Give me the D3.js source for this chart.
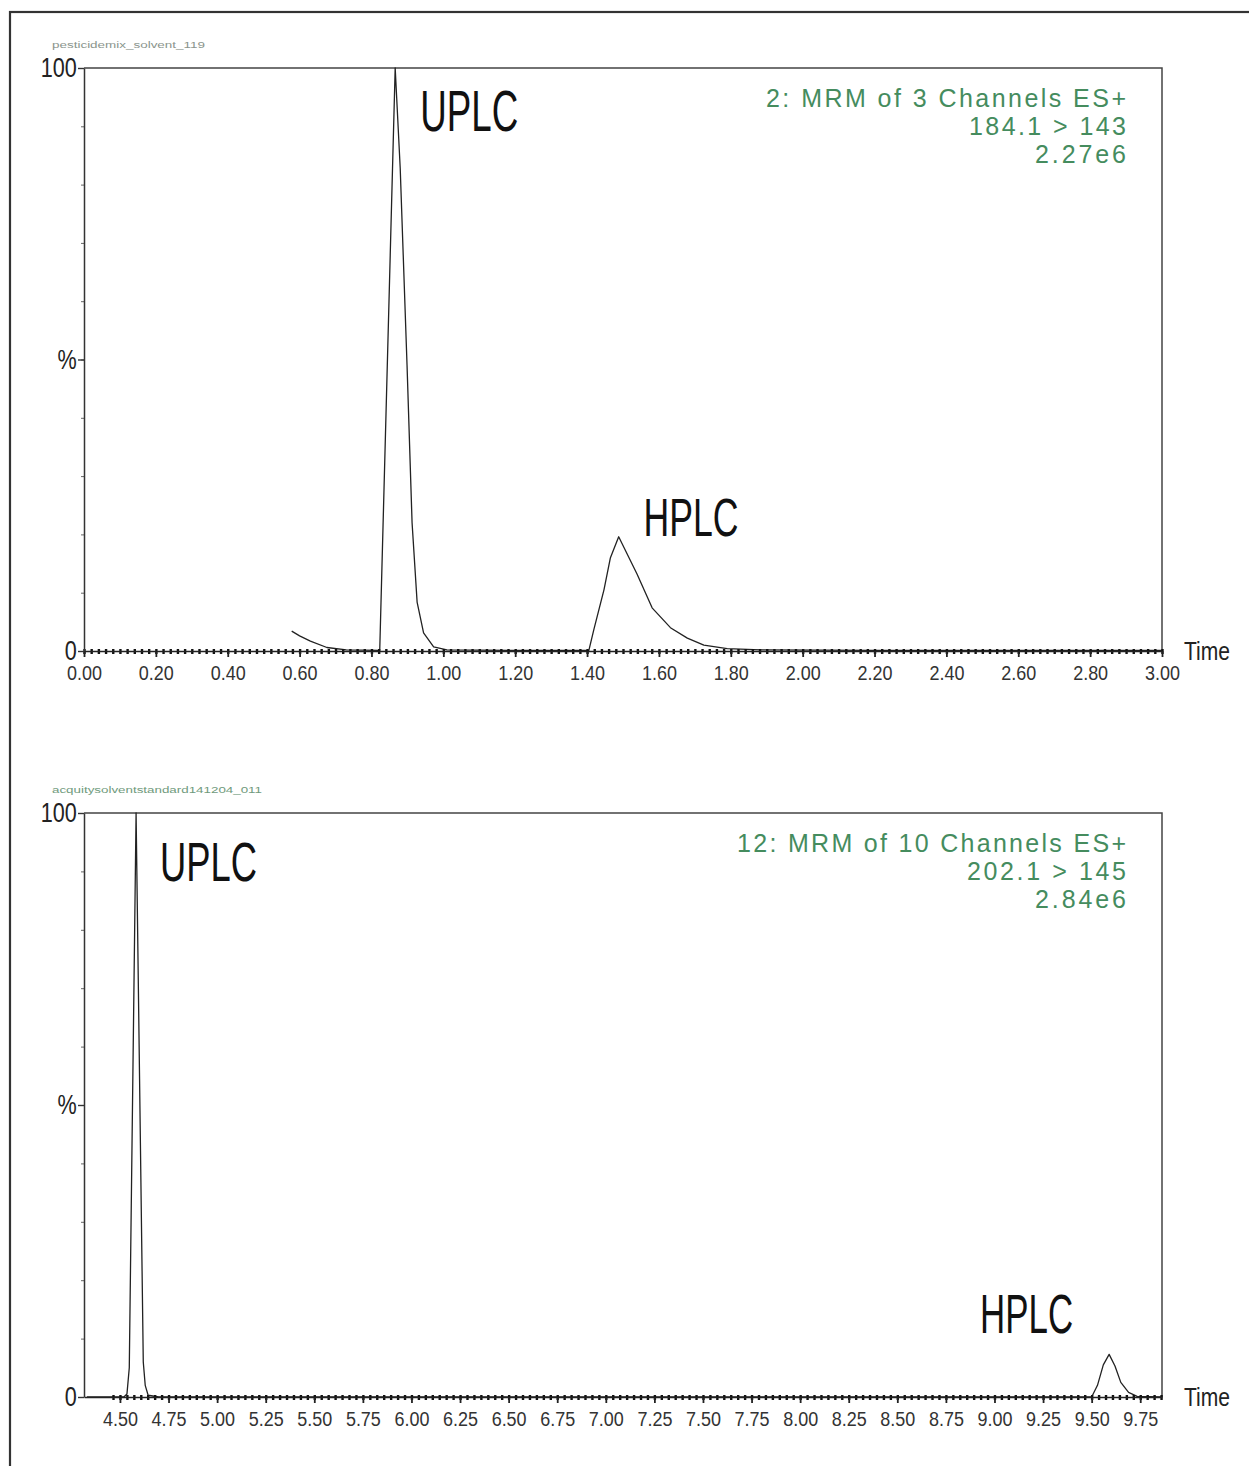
<!DOCTYPE html>
<html><head><meta charset="utf-8">
<script src="https://cdn.jsdelivr.net/npm/d3@7"></script>
<style>body{margin:0;background:#fff}svg{display:block}</style>
</head><body><svg id="c" width="1249" height="1466"></svg>
<script>
// ---- Run 1: pesticide mix in solvent, 3-minute gradient ----
const topFile = "pesticidemix_solvent_119";
const topTime = [0.578, 0.600, 0.630, 0.676, 0.730, 0.823, 0.866, 0.880, 0.899, 0.913, 0.927, 0.945, 0.973, 1.010,
  1.200, 1.405, 1.419, 1.447, 1.465, 1.488, 1.539, 1.581, 1.632, 1.679, 1.725, 1.790, 1.883, 2.200, 3.000];
const topIntensity = [3.4, 2.6, 1.7, 0.6, 0.2, 0.1, 100, 82.8, 49, 22, 8.4, 3.1, 0.7, 0.2,
  0.1, 0.1, 3.7, 10.5, 16, 19.6, 13.2, 7.4, 4.0, 2.2, 1.0, 0.4, 0.2, 0.1, 0.1];
const topTickLabels = ["0.00","0.20","0.40","0.60","0.80","1.00","1.20","1.40","1.60","1.80","2.00","2.20","2.40","2.60","2.80","3.00"];
const topInfo = ["2: MRM of 3 Channels ES+", "184.1 > 143", "2.27e6"];
const topPeaks = ["UPLC", "HPLC"];

// ---- Run 2: Acquity solvent standard, long run ----
const botFile = "acquitysolventstandard141204_011";
const botTime = [4.330, 4.520, 4.536, 4.548, 4.583, 4.620, 4.630, 4.645, 4.700, 6.000, 8.000, 9.500,
  9.530, 9.560, 9.590, 9.620, 9.650, 9.690, 9.734, 9.862];
const botIntensity = [0, 0, 0.5, 5, 100, 6, 2, 0.3, 0, 0, 0, 0,
  2.0, 5.5, 7.3, 5.3, 2.5, 0.8, 0.1, 0];
const botTickLabels = ["4.50","4.75","5.00","5.25","5.50","5.75","6.00","6.25","6.50","6.75","7.00","7.25","7.50","7.75","8.00","8.25","8.50","8.75","9.00","9.25","9.50","9.75"];
const botInfo = ["12: MRM of 10 Channels ES+", "202.1 > 145", "2.84e6"];
const botPeaks = ["UPLC", "HPLC"];

const svg = d3.select("#c");
const INK = "#222";
const GREEN = "#458c5e";
const NARROW = "'Liberation Sans', Arial, sans-serif";

// outer frame
svg.append("rect").attr("x", 10).attr("y", 12).attr("width", 1300).attr("height", 1500)
  .attr("fill", "none").attr("stroke", "#333").attr("stroke-width", 2.2);

function panel(o) {
  const g = svg.append("g");
  const x = d3.scaleLinear().domain(o.domain).range([84, 1162]);
  const y = d3.scaleLinear().domain([0, 100]).range([o.bottom, o.top]);

  // plot box (top & right edges)
  g.append("path")
    .attr("d", `M${x.range()[0]},${y(100)}H${x.range()[1]}V${y(0)}`)
    .attr("fill", "none").attr("stroke", "#444").attr("stroke-width", 1.5);

  // file name above the box
  g.append("text").attr("x", 52).attr("y", o.top - 20)
    .attr("font-family", NARROW).attr("font-size", 8.5).attr("fill", o.fileColor)
    .attr("textLength", o.fileWidth).attr("lengthAdjust", "spacingAndGlyphs")
    .text(o.file);

  // chromatogram trace
  const pts = o.time.map((t, i) => [t, o.intensity[i]]);
  g.append("path").datum(pts)
    .attr("d", d3.line().x(d => x(d[0])).y(d => y(d[1])))
    .attr("fill", "none").attr("stroke", INK).attr("stroke-width", 1.3).attr("stroke-linejoin", "round");

  // minor x ticks (dense dotted baseline)
  const minor = g.append("g").attr("transform", `translate(0,${y(0) - 2})`)
    .call(d3.axisBottom(x).tickValues(o.minor).tickFormat("").tickSizeInner(5).tickSizeOuter(0));
  minor.select(".domain").remove();
  minor.selectAll("line").attr("stroke", "#111").attr("stroke-width", 2.4);

  // major x ticks + labels
  const vals = o.tickLabels.map(Number);
  const ax = g.append("g").attr("transform", `translate(0,${y(0)})`)
    .call(d3.axisBottom(x).tickValues(vals).tickFormat((d, i) => o.tickLabels[i]).tickSize(6).tickPadding(9).tickSizeOuter(0));
  ax.select(".domain").attr("stroke", INK).attr("stroke-width", 1.5);
  ax.selectAll("line").attr("stroke", INK).attr("stroke-width", 1.8);
  ax.selectAll("text").attr("font-family", NARROW).attr("font-size", 20).attr("fill", "#333")
    .attr("textLength", 35).attr("lengthAdjust", "spacingAndGlyphs");

  // y axis: minor ticks every 10 %
  const ym = g.append("g").attr("transform", "translate(84,0)")
    .call(d3.axisLeft(y).tickValues(d3.range(10, 100, 10)).tickFormat("").tickSizeInner(3).tickSizeOuter(0));
  ym.select(".domain").remove();
  ym.selectAll("line").attr("stroke", "#666").attr("stroke-width", 1);

  const ya = g.append("g").attr("transform", "translate(84,0)")
    .call(d3.axisLeft(y).tickValues([0, 50, 100]).tickFormat(d => d === 50 ? "%" : d3.format("d")(d)).tickSize(6).tickPadding(3).tickSizeOuter(0));
  ya.select(".domain").attr("stroke", "#333").attr("stroke-width", 1.5);
  ya.selectAll("line").attr("stroke", "#333").attr("stroke-width", 1.4);
  ya.selectAll("text").attr("font-family", NARROW).attr("font-size", 27).attr("fill", "#222")
    .attr("transform", "scale(0.8,1)");

  // time axis title
  g.append("text").attr("x", 1184).attr("y", y(0) + 9)
    .attr("font-family", NARROW).attr("font-size", 26).attr("fill", "#222")
    .attr("textLength", 46).attr("lengthAdjust", "spacingAndGlyphs").text("Time");

  // channel description, right-aligned in the upper corner
  o.info.forEach((s, i) => {
    g.append("text").attr("x", 1126).attr("y", o.top + 39 + i * 28)
      .attr("text-anchor", "end").attr("font-family", "'Liberation Sans', Arial, sans-serif")
      .attr("font-size", 25).attr("fill", GREEN)
      .attr("textLength", o.infoWidths[i]).attr("lengthAdjust", "spacing")
      .text(s);
  });

  // peak annotations
  o.peaks.forEach((s, i) => {
    const p = o.peakPos[i];
    g.append("text").attr("x", x(p[0])).attr("y", y(p[1]))
      .attr("font-family", NARROW).attr("font-size", p[2]).attr("fill", "#111")
      .attr("textLength", p[3]).attr("lengthAdjust", "spacingAndGlyphs")
      .text(s);
  });
}

panel({
  file: topFile, fileColor: "#8a948c", fileWidth: 153,
  time: topTime, intensity: topIntensity, tickLabels: topTickLabels,
  domain: [0, 3], top: 68, bottom: 651,
  minor: d3.range(0, 151).map(i => i * 0.02),
  info: topInfo, infoWidths: [360, 157, 91],
  peaks: topPeaks, peakPos: [[0.936, 89.2, 57, 98], [1.557, 19.7, 53, 95]]
});

panel({
  file: botFile, fileColor: "#6f9a7c", fileWidth: 210,
  time: botTime, intensity: botIntensity, tickLabels: botTickLabels,
  domain: [4.315, 9.862], top: 813, bottom: 1397,
  minor: d3.range(-1, 155).map(i => 4.5 + i * 0.25 / 7).filter(v => v <= 9.86),
  info: botInfo, infoWidths: [389, 159, 91],
  peaks: botPeaks, peakPos: [[4.706, 88.4, 55, 97], [8.926, 11.0, 55, 93]]
});
</script>
</body></html>
